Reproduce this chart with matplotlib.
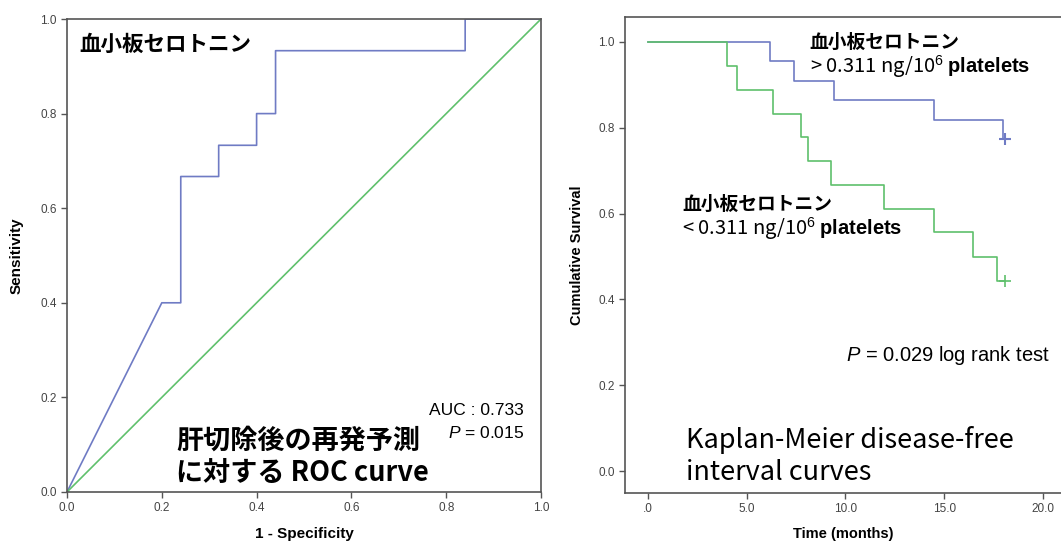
import matplotlib
matplotlib.use("Agg")
import matplotlib.pyplot as plt

plt.rcParams['font.family'] = ['Liberation Sans', 'DejaVu Sans']
plt.rcParams['mathtext.fontset'] = 'custom'
plt.rcParams['mathtext.rm'] = 'Liberation Sans'
plt.rcParams['mathtext.it'] = 'Liberation Sans:italic'
plt.rcParams['mathtext.bf'] = 'Liberation Sans:bold'

# ROC curve
fpr = [0, 0.2, 0.24, 0.24, 0.32, 0.32, 0.4, 0.4, 0.44, 0.44, 0.84, 0.84, 1.0]
tpr = [0, 0.4, 0.4, 0.667, 0.667, 0.733, 0.733, 0.8, 0.8, 0.933, 0.933, 1.0, 1.0]
ref_line = [0, 1]

# Kaplan-Meier curves
hi_times = [0, 6.2, 7.4, 9.4, 14.5, 17.95]
hi_surv = [1.0, 0.955, 0.909, 0.864, 0.818, 0.773]
hi_censor = 18.05
lo_times = [0, 4.0, 4.5, 6.35, 7.75, 8.1, 9.25, 11.95, 14.5, 16.45, 17.65]
lo_surv = [1.0, 0.944, 0.889, 0.833, 0.778, 0.722, 0.667, 0.611, 0.556, 0.5, 0.444]
lo_censor = 18.05

roc_ticks = [0.0, 0.2, 0.4, 0.6, 0.8, 1.0]
km_xticks = [0, 5, 10, 15, 20]
km_xlabels = ['.0', '5.0', '10.0', '15.0', '20.0']

blue = '#6f7bc4'
green = '#5fc06c'
spine_c = '#555555'
jp = ['Noto Sans CJK JP', 'DejaVu Sans']

fig = plt.figure(figsize=(10.61, 5.42), dpi=100)
ax1 = fig.add_axes([67/1061, 50/542, 474/1061, 473/542])
ax2 = fig.add_axes([625/1061, 49/542, 436/1061, 476/542])

for ax in (ax1, ax2):
    for s in ax.spines.values():
        s.set_color(spine_c)
        s.set_linewidth(1.2)
    ax.tick_params(direction='out', length=4, width=1, color=spine_c,
                   labelcolor='#444444', labelsize=8.5)

# ---- left: ROC
ax1.plot(fpr, tpr, color=blue, lw=1.2)
ax1.plot(ref_line, ref_line, color=green, lw=1.2)
ax1.set_xlim(0, 1)
ax1.set_ylim(0, 1)
ax1.set_xticks(roc_ticks)
ax1.set_yticks(roc_ticks)
ax1.set_xticklabels(['%.1f' % t for t in roc_ticks])
ax1.set_yticklabels(['%.1f' % t for t in roc_ticks])
ax1.set_xlabel('1 - Specificity', fontsize=11, fontweight='bold', labelpad=9)
ax1.set_ylabel('Sensitivity', fontsize=11, fontweight='bold', labelpad=12)

ax1.text(0.027, 0.947, '血小板セロトニン', transform=ax1.transAxes, family=jp,
         fontsize=15.5, fontweight='bold', va='center', ha='left')
ax1.text(0.964, 0.173, 'AUC : 0.733', transform=ax1.transAxes,
         fontsize=12.5, ha='right', va='center')
ax1.text(0.964, 0.125, r'$\it{P}$ = 0.015', transform=ax1.transAxes,
         fontsize=12.5, ha='right', va='center')
ax1.text(0.23, 0.108, '肝切除後の再発予測', transform=ax1.transAxes, family=jp,
         fontsize=19.5, fontweight='bold', va='center', ha='left')
ax1.text(0.23, 0.040, 'に対する ROC curve', transform=ax1.transAxes, family=jp,
         fontsize=19.5, fontweight='bold', va='center', ha='left')

# ---- right: Kaplan-Meier
ax2.step(hi_times + [hi_censor], hi_surv + [hi_surv[-1]], where='post', color=blue, lw=1.2)
ax2.plot([hi_censor], [hi_surv[-1]], marker='+', color=blue, ms=8, mew=1.5)
ax2.step(lo_times + [lo_censor], lo_surv + [lo_surv[-1]], where='post', color=green, lw=1.2)
ax2.plot([lo_censor], [lo_surv[-1]], marker='+', color=green, ms=8, mew=1.2)
ax2.set_xlim(-1.15, 20.9)
ax2.set_ylim(-0.051, 1.058)
ax2.set_xticks(km_xticks)
ax2.set_xticklabels(km_xlabels)
ax2.set_yticks(roc_ticks)
ax2.set_yticklabels(['%.1f' % t for t in roc_ticks])
ax2.spines['right'].set_visible(False)
ax2.set_xlabel('Time (months)', fontsize=10.5, fontweight='bold', labelpad=8)
ax2.set_ylabel('Cumulative Survival', fontsize=10.5, fontweight='bold', labelpad=10)

ax2.text(0.424, 0.947, '血小板セロトニン', transform=ax2.transAxes, family=jp,
         fontsize=13.5, fontweight='bold', va='center', ha='left')
ax2.text(0.424, 0.895, r'> 0.311 ng/10$^6$ $\mathbf{platelets}$', transform=ax2.transAxes,
         family=jp, fontsize=14.5, va='center', ha='left')
ax2.text(0.131, 0.607, '血小板セロトニン', transform=ax2.transAxes, family=jp,
         fontsize=13.5, fontweight='bold', va='center', ha='left')
ax2.text(0.131, 0.555, r'< 0.311 ng/10$^6$ $\mathbf{platelets}$', transform=ax2.transAxes,
         family=jp, fontsize=14.5, va='center', ha='left')
ax2.text(0.975, 0.288, r'$\it{P}$ = 0.029 log rank test', transform=ax2.transAxes,
         fontsize=14.5, ha='right', va='center')
ax2.text(0.14, 0.111, 'Kaplan-Meier disease-free', transform=ax2.transAxes, family=jp,
         fontsize=19.5, va='center', ha='left')
ax2.text(0.14, 0.044, 'interval curves', transform=ax2.transAxes, family=jp,
         fontsize=19.5, va='center', ha='left')

fig.savefig('out.png', dpi=100)
